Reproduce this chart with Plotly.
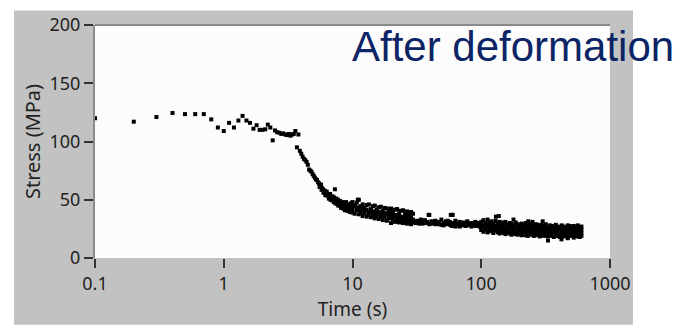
import plotly.graph_objects as go

# ---------------- data ----------------
t_early = [0.1, 0.2, 0.3, 0.4, 0.5, 0.6, 0.7, 0.8, 0.9, 1.0, 1.1, 1.2, 1.3, 1.4, 1.5, 1.6,
           1.7, 1.8, 1.9, 2.0, 2.1, 2.2, 2.3, 2.4, 2.5, 2.6, 2.7, 2.8, 2.9, 3.0, 3.1, 3.2,
           3.3, 3.4, 3.5, 3.6, 3.7, 3.8]
s_early = [120, 117, 121, 124.5, 123.5, 123.5, 123.5, 119, 112, 109, 116, 112, 118, 122, 118, 116,
           111, 114, 110, 110, 110.5, 114.5, 112, 101, 109.5, 108, 107.5, 106.5, 107, 106, 105.5, 106.5,
           105, 106, 106.5, 109, 95, 106]

t_drop = [3.9, 4.0, 4.1, 4.2, 4.3, 4.4, 4.5, 4.6, 4.7, 4.8, 4.9, 5.0, 5.1, 5.2, 5.3, 5.4,
          5.5, 5.6, 5.7, 5.8, 5.9, 6.0, 6.1, 6.2, 6.3, 6.4, 6.5, 6.6, 6.7, 6.8, 6.9, 7.0,
          7.1, 7.2, 7.3, 7.4, 7.5, 7.6, 7.7, 7.8, 7.9, 8.0, 8.1, 8.2, 8.3, 8.4, 8.5, 8.6,
          8.7, 8.8, 8.9, 9.0, 9.1, 9.2, 9.3, 9.4, 9.5, 9.6, 9.7, 9.8, 9.9]
s_drop = [92, 89.5, 87, 85, 84, 82.5, 80, 76, 75, 74, 72, 70.5, 69, 67.5, 67, 65,
          64, 62.5, 63, 60, 59, 58, 57.5, 56, 57, 55, 54.5, 53, 55, 52, 51.5, 53,
          50, 52, 59, 49, 51, 47.5, 50, 48, 46, 49, 47, 45.5, 48, 44, 47, 46,
          43, 45.5, 48, 44, 42, 46, 43.5, 45, 41, 44, 47, 42, 45]
t_drop2 = [5.55, 5.75, 5.95, 6.15, 6.35, 6.55, 6.75, 6.95, 7.15, 7.35, 7.55, 7.75,
           7.95, 8.15, 8.35, 8.55, 8.75, 8.95, 9.15, 9.35, 9.55, 9.75, 9.95]
s_drop2 = [61, 58.5, 56, 54, 53.5, 51, 50, 49.5, 48, 47, 46.5, 45,
           45, 43, 43.5, 42, 41, 42.5, 40.5, 41, 39.5, 40, 39]

t_mid = [10, 10.4, 10.8, 11.2, 11.6, 12, 12.4, 12.9, 13.4, 13.9, 14.4, 14.9, 15.4, 16, 16.6, 17.2,
         17.8, 18.5, 19.2, 19.9, 20.6, 21.4, 22.2, 23, 23.8, 24.7, 25.6, 26.5, 27.5, 28.5, 29.5]
s_mid_hi = [48, 45, 47.5, 50, 44.5, 46, 43, 45.5, 46, 42, 44.5, 45, 41.5, 43.5, 44, 40.5,
            43, 42.5, 40, 42.5, 39.5, 41.5, 42, 38.5, 40.5, 41, 38, 40, 37.5, 39.5, 38]
s_mid_c = [43, 44.5, 41.5, 43.5, 41, 42.5, 40, 41.5, 39.5, 40.5, 38.5, 40, 38, 39.5, 37.5, 38.5,
           37, 38.5, 36.5, 37.5, 36, 37, 35, 36.5, 34.5, 35.5, 34, 35.5, 33.5, 35, 33]
s_mid_lo = [40, 38, 41, 37.5, 39, 36, 38.5, 35.5, 37.5, 35, 37, 34, 36, 33.5, 35.5, 32.5,
            35, 32, 34, 30, 33.5, 31, 32.5, 30.5, 32, 30, 31.5, 29.5, 31, 29, 30.5]

t_d = [31, 32, 33, 34, 35, 36.5, 38, 39.5, 41, 42.5, 44, 45.5, 47, 49, 51, 53,
       55, 57, 59, 61, 63, 65.5, 68, 70.5, 73, 75.5, 78, 81, 84, 87, 90, 93.5, 97]
s_d1 = [31.5, 32, 31, 33, 31, 32.5, 30.5, 37, 31.5, 30, 32, 31, 30.5, 33, 30, 31.5,
        29.5, 31, 37, 30, 32, 29.5, 31, 28.5, 30.5, 29, 31.5, 28.5, 30, 29, 31, 28, 29.5]
s_d2 = [30, 30.5, 29.5, 30, 29.5, 30, 31, 29, 29.5, 31, 29, 30.5, 29, 28.5, 28, 29,
        32, 28.5, 27.5, 29, 27, 28.5, 27, 28, 30, 27.5, 28, 29.5, 27, 28.5, 27.5, 30, 27]

t_late = [100, 104, 108, 112, 116, 120, 124, 129, 134, 139, 144, 149, 154, 160, 166, 172,
          178, 185, 192, 199, 206, 214, 222, 230, 238, 247, 256, 265, 275, 285, 295, 306,
          317, 329, 341, 353, 366, 379, 393, 407, 422, 437, 453, 470, 487, 505, 523, 542,
          562, 582, 600]
s_late_1 = [31, 32.5, 30, 33, 30.5, 31.5, 29.5, 32, 30, 31, 29, 30.5, 31, 28.5, 30, 29.5,
            28, 30.5, 29, 28, 29.5, 28.5, 30, 27.5, 29, 28, 27, 29, 28.5, 27, 28.5, 27.5,
            29, 26.5, 28, 27.5, 26.5, 28.5, 27, 26.5, 28, 27, 26, 28, 27.5, 26, 27.5, 26.5,
            28, 26.5, 27]
s_late_2 = [29, 27.5, 30, 28, 28.5, 27, 29, 27.5, 27, 28.5, 26.5, 28, 26, 27.5, 27, 25.5,
            27.5, 26, 27, 25.5, 26.5, 25, 27, 25.5, 25, 26.5, 25.5, 24.5, 26, 25, 24, 26,
            24.5, 25.5, 24, 25, 25.5, 24, 25, 24.5, 23.5, 25.5, 24, 24.5, 25, 23.5, 25, 24,
            23.5, 25, 24.5]
s_late_3 = [26, 27, 25, 26.5, 24.5, 25.5, 26, 24, 25, 23.5, 25.5, 24, 23.5, 25, 23, 24.5,
            23.5, 22.5, 24, 23, 22, 23.5, 22.5, 23, 21.5, 23, 22.5, 21.5, 23, 22, 21.5, 23,
            21, 22.5, 22, 21, 22.5, 21.5, 22, 20.5, 22, 21.5, 20.5, 22.5, 21, 22, 20.5, 21.5,
            22, 21, 21.5]
s_late_4 = [24, 22.5, 24.5, 22, 23.5, 23, 21.5, 23.5, 22, 21, 22.5, 21.5, 20.5, 22, 21, 20,
            21.5, 20.5, 20, 21, 19.5, 20.5, 19.5, 19, 20.5, 20, 19, 19.5, 20.5, 18.5, 20, 19,
            19.5, 18.5, 20, 19, 18, 19.5, 19, 18, 19.5, 18.5, 19, 18, 19.5, 19, 17.5, 19,
            18.5, 18, 19]

t_out = [11, 39, 58, 60, 130, 137, 178, 232, 250, 300, 330, 420, 470]
s_out = [50, 37, 37, 37, 35.5, 36, 33, 31.5, 31, 31.5, 15, 16, 17]

x_tick_vals = [0.1, 1, 10, 100, 1000]
x_tick_text = ["0.1", "1", "10", "100", "1000"]
y_tick_vals = [0, 50, 100, 150, 200]
y_tick_text = ["0", "50", "100", "150", "200"]

# ---------------- assemble ----------------
times = (t_early + t_drop + t_drop2 + t_mid * 3 + t_d * 2 + t_late * 4 + t_out)
stress = (s_early + s_drop + s_drop2 + s_mid_hi + s_mid_c + s_mid_lo + s_d1 + s_d2
          + s_late_1 + s_late_2 + s_late_3 + s_late_4 + s_out)

W, H = 685, 330
L, R, T, B = 95, 610, 17, 258          # plot area in pixels
PW, PH = R - L, B - T


def px(x):
    return (x - L) / PW


def py(y):
    return (B - y) / PH


fig = go.Figure()
fig.add_trace(go.Scatter(
    x=times, y=stress, mode="markers",
    marker=dict(symbol="square", size=4, color="black", line=dict(width=0)),
    showlegend=False, hoverinfo="skip",
))

tick_font = dict(family="Noto Sans", size=18, color="#222222")

fig.update_layout(
    width=W, height=H,
    margin=dict(l=L, r=W - R, t=T, b=H - B, pad=0),
    paper_bgcolor="white",
    plot_bgcolor="#fcfcfc",
    xaxis=dict(
        type="log", range=[-1, 3],
        tickvals=x_tick_vals, ticktext=x_tick_text,
        ticks="outside", ticklen=9, tickwidth=1.5, tickcolor="#333333",
        showgrid=False, zeroline=False, showline=False,
        tickfont=tick_font,
        title=dict(text="Time (s)", font=dict(family="Noto Sans", size=19, color="#222222"),
                   standoff=9),
    ),
    yaxis=dict(
        range=[0, 200],
        tickvals=y_tick_vals, ticktext=y_tick_text,
        ticks="outside", ticklen=9, tickwidth=1.5, tickcolor="#333333",
        showgrid=False, zeroline=False,
        showline=True, linecolor="#8a8a8a", linewidth=2,
        tickfont=tick_font,
        title=dict(text="Stress (MPa)", font=dict(family="Noto Sans", size=20, color="#222222"),
                   standoff=4),
    ),
    shapes=[
        dict(type="rect", xref="paper", yref="paper", layer="below",
             x0=px(14), x1=px(633), y0=py(327), y1=py(2),
             fillcolor="#c2c2c2", line=dict(width=0)),
        dict(type="rect", xref="paper", yref="paper", layer="below",
             x0=0, x1=1, y0=0, y1=1,
             fillcolor="#fcfcfc", line=dict(width=0)),
        dict(type="line", xref="paper", yref="paper", layer="above",
             x0=0, x1=1, y0=1, y1=1,
             line=dict(color="#8a8a8a", width=2)),
    ],
    annotations=[
        dict(text="After deformation", xref="paper", yref="paper",
             x=px(350), y=py(39), xanchor="left", yanchor="middle",
             showarrow=False,
             font=dict(family="Liberation Sans", size=42, color="#0b2466")),
    ],
)

fig.write_html("out.html")
